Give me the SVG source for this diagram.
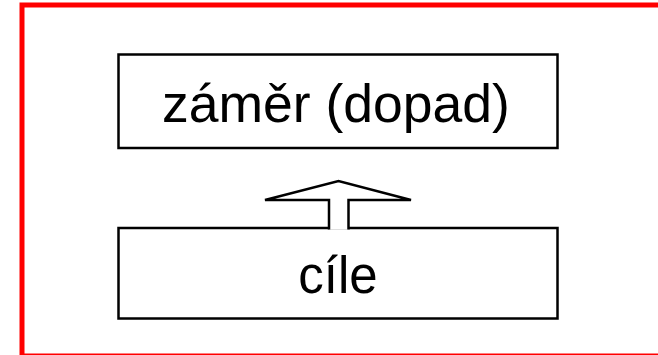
<svg xmlns="http://www.w3.org/2000/svg" width="658" height="355" viewBox="0 0 658 355">
<style>
.box{fill:#fff;stroke:#000;stroke-width:2.5}
.lbl{font-family:"Liberation Sans",Arial,sans-serif;font-size:51px;fill:#000;text-anchor:middle}
</style>
<rect x="0" y="0" width="658" height="355" fill="#fff"/>
<rect x="22" y="5" width="700" height="351" fill="none" stroke="#ff0000" stroke-width="5"/>
<g id="n1">
<rect class="box" x="118.5" y="54.5" width="439" height="93.5"/>
<text class="lbl" x="336" y="122" style="font-size:53.5px">záměr (dopad)</text>
</g>
<g id="n2">
<rect class="box" x="118.5" y="228" width="439" height="90.5"/>
<text class="lbl" x="338" y="293">cíle</text>
</g>
<g id="connectors">
<polyline points="329,229.5 329,200 265,200 338.5,181 411,200 348.5,200 348.5,229.5" fill="#fff" stroke="#000" stroke-width="2.5" stroke-linejoin="miter"/>
</g>
</svg>
